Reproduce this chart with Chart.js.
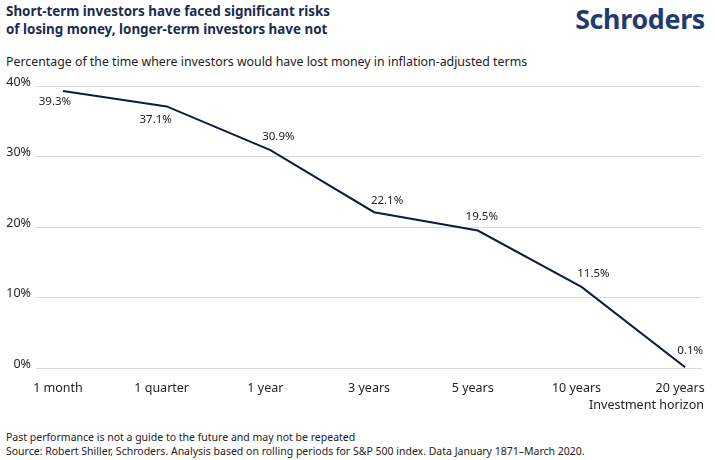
<!DOCTYPE html>
<html>
<head>
<meta charset="utf-8">
<script src="https://cdn.jsdelivr.net/npm/chart.js@4.4.0/dist/chart.umd.min.js"></script>
<style>
  html, body { margin: 0; padding: 0; background: #fff; }
  body { width: 715px; height: 460px; position: relative; overflow: hidden; font-family: 'Noto Sans', sans-serif; color: #222; }
  .title { position: absolute; left: 6px; top: 2px; font-size: 13.4px; font-weight: 700; line-height: 18px; color: #1c2b4d; }
  .logo { position: absolute; right: 10px; top: 0px; font-size: 26.8px; font-weight: 700; color: #1f3c70; letter-spacing: -0.3px; }
  .subtitle { position: absolute; left: 6px; top: 53px; font-size: 12.35px; color: #222; }
  .axis-title { position: absolute; right: 11px; top: 396px; font-size: 12.5px; color: #222; }
  .foot { position: absolute; left: 6px; top: 430px; font-size: 10.5px; line-height: 14px; color: #222; }
  .wrap { position: absolute; left: 0; top: 70px; width: 715px; height: 330px; }
</style>
</head>
<body>
<div class="title">Short-term investors have faced significant risks<br>of losing money, longer-term investors have not</div>
<div class="logo">Schroders</div>
<div class="subtitle">Percentage of the time where investors would have lost money in inflation-adjusted terms</div>
<div class="wrap"><canvas id="c"></canvas></div>
<div class="axis-title">Investment horizon</div>
<div class="foot">Past performance is not a guide to the future and may not be repeated<br>Source: Robert Shiller, Schroders. Analysis based on rolling periods for S&amp;P 500 index. Data January 1871–March 2020.</div>
<script>
// Datos
const horizons = ['1 month', '1 quarter', '1 year', '3 years', '5 years', '10 years', '20 years'];
const lossPct = [39.3, 37.1, 30.9, 22.1, 19.5, 11.5, 0.1];
const yTicks = [0, 10, 20, 30, 40];

// Posición de cada etiqueta respecto a su punto (px)
const labelDx = [-8, -11, 8, 13, 4, 12, 5];
const labelDy = [11, 13, -13, -11, -14, -13, -17];

const NAVY = '#0f1d3c';
const FONT = { family: "'Noto Sans', sans-serif", size: 12.5 };

const pointLabels = {
  id: 'pointLabels',
  afterDatasetsDraw(chart) {
    const ctx = chart.ctx;
    const meta = chart.getDatasetMeta(0);
    ctx.save();
    ctx.font = "11.5px 'Noto Sans', sans-serif";
    ctx.fillStyle = '#222';
    ctx.textAlign = 'center';
    ctx.textBaseline = 'middle';
    meta.data.forEach((pt, i) => {
      ctx.fillText(lossPct[i].toFixed(1) + '%', pt.x + labelDx[i], pt.y + labelDy[i]);
    });
    ctx.restore();
  }
};

new Chart(document.getElementById('c'), {
  type: 'line',
  data: {
    datasets: [{
      data: lossPct.map((v, i) => ({ x: i, y: v })),
      borderColor: NAVY,
      borderWidth: 2,
      pointRadius: 0,
      tension: 0,
      fill: false
    }]
  },
  options: {
    responsive: true,
    maintainAspectRatio: false,
    animation: false,
    layout: { padding: { top: 16, left: 6, right: 10, bottom: 0 } },
    plugins: { legend: { display: false }, tooltip: { enabled: false } },
    scales: {
      x: {
        type: 'linear',
        min: -0.26,
        max: 6.16,
        afterBuildTicks: s => { s.ticks = horizons.map((_, i) => ({ value: i })); },
        afterFit: s => { s.height = 32; },
        grid: { display: false },
        border: { display: false },
        ticks: {
          callback: v => horizons[v],
          color: '#222',
          font: FONT,
          padding: 5,
          labelOffset: -5,
          maxRotation: 0,
          autoSkip: false
        }
      },
      y: {
        min: 0,
        max: 40,
        afterBuildTicks: s => { s.ticks = yTicks.map(v => ({ value: v })); },
        afterFit: s => { s.width = 30; },
        grid: { color: '#d9d9d9', lineWidth: 1, drawTicks: false },
        border: { display: false },
        ticks: {
          callback: v => v + '%',
          color: '#222',
          font: FONT,
          padding: 5,
          labelOffset: -4
        }
      }
    }
  },
  plugins: [pointLabels]
});
</script>
</body>
</html>
